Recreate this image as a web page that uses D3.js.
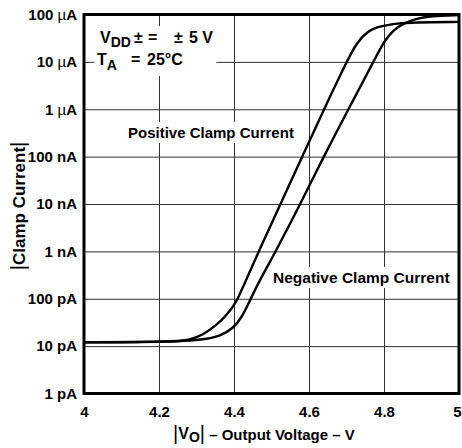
<!DOCTYPE html>
<html>
<head>
<meta charset="utf-8">
<script src="https://cdn.jsdelivr.net/npm/d3@7"></script>
<style>
  html, body { margin: 0; padding: 0; background: #fff; }
  svg { display: block; }
  text { font-family: "Liberation Sans", Arial, Helvetica, sans-serif; font-weight: bold; fill: #000; }
</style>
</head>
<body>
<svg id="chart" width="462" height="448"></svg>
<script>
// ---- data ----
const xTickValues = [4, 4.2, 4.4, 4.6, 4.8, 5];
const xTickLabels = ["4", "4.2", "4.4", "4.6", "4.8", "5"];
const yTickValues = [1e-4, 1e-5, 1e-6, 1e-7, 1e-8, 1e-9, 1e-10, 1e-11, 1e-12];
const yTickLabels = ["100 µA", "10 µA", "1 µA", "100 nA", "10 nA", "1 nA", "100 pA", "10 pA", "1 pA"];

// Positive clamp current (A) vs |VO| (V)
const vPos = [4.00, 4.10, 4.20, 4.25, 4.28, 4.317, 4.354, 4.381, 4.399, 4.41, 4.437, 4.466, 4.524, 4.582, 4.64, 4.70, 4.728, 4.755, 4.781, 4.80, 4.834, 4.878, 5.00];
const iPos = [1.2e-11, 1.2e-11, 1.23e-11, 1.26e-11, 1.35e-11, 1.7e-11, 2.8e-11, 4.6e-11, 7.1e-11, 1.0e-10, 3.0e-10, 1.0e-9, 1.0e-8, 1.0e-7, 1.0e-6, 1.0e-5, 2.6e-5, 4.3e-5, 5.4e-5, 5.8e-5, 6.5e-5, 6.8e-5, 7.0e-5];

// Negative clamp current (A) vs |VO| (V)
const vNeg = [4.00, 4.20, 4.317, 4.362, 4.399, 4.42, 4.44, 4.46, 4.485, 4.511, 4.577, 4.639, 4.705, 4.772, 4.799, 4.825, 4.852, 4.888, 4.923, 5.00];
const iNeg = [1.2e-11, 1.23e-11, 1.35e-11, 1.6e-11, 2.4e-11, 4.0e-11, 8.3e-11, 1.8e-10, 4.2e-10, 1.0e-9, 1.0e-8, 1.0e-7, 1.0e-6, 1.0e-5, 2.66e-5, 4.7e-5, 6.5e-5, 8.2e-5, 9.3e-5, 9.7e-5];

// ---- layout ----
const L = 84, R = 459, T = 14.5, B = 393.5;
const svg = d3.select("#chart");
const x = d3.scaleLinear().domain([4, 5]).range([L, R]);
const y = d3.scaleLog().domain([1e-12, 1e-4]).range([B, T]);

// grid
const gx = svg.append("g").attr("transform", `translate(0,${B})`)
  .call(d3.axisBottom(x).tickValues(xTickValues).tickSize(-(B - T)).tickFormat(""));
gx.select(".domain").remove();
gx.selectAll("line").attr("stroke", "#333").attr("stroke-width", 1);

const gy = svg.append("g").attr("transform", `translate(${L},0)`)
  .call(d3.axisLeft(y).tickValues(yTickValues).tickSize(-(R - L)).tickFormat(""));
gy.select(".domain").remove();
gy.selectAll("line").attr("stroke", "#333").attr("stroke-width", 1);

// white boxes behind annotations
function boxedText(g, pad) {
  const bb = g.node().getBBox();
  g.insert("rect", ":first-child")
    .attr("x", bb.x - pad[0]).attr("y", bb.y - pad[1])
    .attr("width", bb.width + 2 * pad[0]).attr("height", bb.height + 2 * pad[1])
    .attr("fill", "#fff");
}

// curves
const line = d3.line().x(d => x(d[0])).y(d => y(d[1])).curve(d3.curveBasis);
svg.append("path").datum(vPos.map((v, i) => [v, iPos[i]]))
  .attr("d", line).attr("fill", "none").attr("stroke", "#000").attr("stroke-width", 2.4);
svg.append("path").datum(vNeg.map((v, i) => [v, iNeg[i]]))
  .attr("d", line).attr("fill", "none").attr("stroke", "#000").attr("stroke-width", 2.4);

// frame
svg.append("rect").attr("x", L).attr("y", T).attr("width", R - L).attr("height", B - T)
  .attr("fill", "none").attr("stroke", "#000").attr("stroke-width", 3);

// y tick labels
const ay = svg.append("g").attr("transform", `translate(${L},0)`)
  .call(d3.axisLeft(y).tickValues(yTickValues).tickSize(0).tickPadding(7)
    .tickFormat((d, i) => yTickLabels[i]));
ay.select(".domain").remove();
ay.selectAll("text").attr("font-size", 15).attr("font-family", null).attr("fill", "#000")
  .each(function () {
    const t = d3.select(this);
    const s = t.text();
    if (s.includes("µ")) {
      const parts = s.split("µ");
      t.text("");
      t.append("tspan").text(parts[0]);
      t.append("tspan").attr("font-weight", "normal").text("µ");
      t.append("tspan").text(parts[1]);
    }
  });

// x tick labels
const ax = svg.append("g").attr("transform", `translate(0,${B})`)
  .call(d3.axisBottom(x).tickValues(xTickValues).tickSize(0).tickPadding(13)
    .tickFormat((d, i) => xTickLabels[i]));
ax.select(".domain").remove();
ax.selectAll("text").attr("font-size", 15).attr("font-family", null).attr("fill", "#000");
// keep the last label inside the window
ax.selectAll("text").filter((d, i) => i === xTickValues.length - 1)
  .attr("text-anchor", "end").attr("x", 462 - R - 1);

// axis titles
const xt = svg.append("text").attr("x", 173).attr("y", 439).attr("font-size", 15);
xt.append("tspan").attr("font-weight", "normal").attr("font-size", 20).attr("dy", 1).text("|");
xt.append("tspan").attr("dy", -1).attr("font-size", 16).text("V");
xt.append("tspan").attr("font-size", 14).attr("dy", 3).text("O");
xt.append("tspan").attr("font-weight", "normal").attr("font-size", 20).attr("dy", -2).text("|");
xt.append("tspan").attr("dy", 0).text(" – Output Voltage – V");

const yt = svg.append("text").attr("transform", "translate(25,206) rotate(-90)")
  .attr("text-anchor", "middle").attr("font-size", 17);
yt.append("tspan").attr("font-weight", "normal").attr("font-size", 20).text("|");
yt.append("tspan").text("Clamp Current");
yt.append("tspan").attr("font-weight", "normal").attr("font-size", 20).text("|");

// condition annotation
const cond = svg.append("g");
const c1 = cond.append("text").attr("y", 43).attr("font-size", 16);
c1.append("tspan").attr("x", 100).text("V");
c1.append("tspan").attr("font-size", 14).attr("dy", 4).text("DD");
c1.append("tspan").attr("x", 134).attr("dy", -4).text("±");
c1.append("tspan").attr("x", 148).text("=");
c1.append("tspan").attr("x", 174).text("±");
c1.append("tspan").attr("x", 189).text("5 V");
const c2 = cond.append("text").attr("y", 65).attr("font-size", 16);
c2.append("tspan").attr("x", 97).text("T");
c2.append("tspan").attr("font-size", 14).attr("dy", 5).text("A");
c2.append("tspan").attr("x", 131).attr("dy", -5).text("=");
c2.append("tspan").attr("x", 147).text("25°C");
boxedText(cond, [3, 3]);

// curve labels
const pl = svg.append("g");
pl.append("text").attr("x", 128).attr("y", 138).attr("font-size", 15).text("Positive Clamp Current");
boxedText(pl, [3, 2]);
const nl = svg.append("g");
nl.append("text").attr("x", 273).attr("y", 283).attr("font-size", 15.5).text("Negative Clamp Current");
boxedText(nl, [3, 2]);
</script>
</body>
</html>
